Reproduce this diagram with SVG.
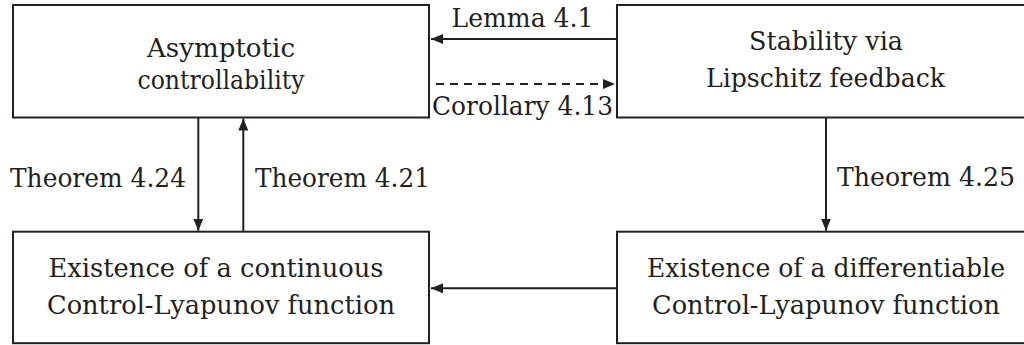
<svg xmlns="http://www.w3.org/2000/svg" width="1024" height="345" viewBox="0 0 1024 345">
  <defs>
    <style>
      .box { fill: #ffffff; stroke: #231f20; stroke-width: 2; }
      text { font-family: 'DejaVu Serif', 'Liberation Serif', serif; font-size: 26px; fill: #231f20; }
      .mid { text-anchor: middle; }
      .edge { stroke: #231f20; stroke-width: 2; fill: none; }
      .dash { stroke-dasharray: 8 6; }
    </style>
    <marker id="arr" viewBox="0 0 12 10" refX="12" refY="5" markerWidth="12" markerHeight="10" markerUnits="userSpaceOnUse" orient="auto">
      <path d="M0,0 L12,5 L0,10 Z" fill="#231f20"/>
    </marker>
  </defs>
  <rect width="1024" height="345" fill="#ffffff"/>

  <g id="node-asymptotic">
    <rect class="box" x="13" y="5" width="416" height="112.5"/>
    <text class="mid" x="221" y="57" textLength="148" lengthAdjust="spacingAndGlyphs">Asymptotic</text>
    <text class="mid" x="221" y="89" textLength="167" lengthAdjust="spacingAndGlyphs">controllability</text>
  </g>

  <g id="node-stability">
    <rect class="box" x="617" y="5" width="420" height="112.5"/>
    <text class="mid" x="826" y="50" textLength="154" lengthAdjust="spacingAndGlyphs">Stability via</text>
    <text class="mid" x="825.5" y="87" textLength="239" lengthAdjust="spacingAndGlyphs">Lipschitz feedback</text>
  </g>

  <g id="node-continuous">
    <rect class="box" x="13" y="231.7" width="416" height="111.5"/>
    <text class="mid" x="216" y="277" textLength="335" lengthAdjust="spacingAndGlyphs">Existence of a continuous</text>
    <text class="mid" x="221" y="314" textLength="348" lengthAdjust="spacingAndGlyphs">Control-Lyapunov function</text>
  </g>

  <g id="node-differentiable">
    <rect class="box" x="617" y="231.7" width="420" height="111.5"/>
    <text class="mid" x="826" y="277" textLength="358" lengthAdjust="spacingAndGlyphs">Existence of a differentiable</text>
    <text class="mid" x="826" y="314" textLength="348" lengthAdjust="spacingAndGlyphs">Control-Lyapunov function</text>
  </g>

  <g id="connectors">
    <line class="edge" x1="617" y1="39" x2="431" y2="39" marker-end="url(#arr)"/>
    <line class="edge dash" x1="436" y1="84" x2="615" y2="84" marker-end="url(#arr)"/>
    <line class="edge" x1="198.3" y1="117.5" x2="198.3" y2="230.7" marker-end="url(#arr)"/>
    <line class="edge" x1="243.3" y1="231.7" x2="243.3" y2="118.5" marker-end="url(#arr)"/>
    <line class="edge" x1="826" y1="117.5" x2="826" y2="230.7" marker-end="url(#arr)"/>
    <line class="edge" x1="617" y1="288.3" x2="431" y2="288.3" marker-end="url(#arr)"/>
    <text x="451.5" y="27" textLength="142" lengthAdjust="spacingAndGlyphs">Lemma 4.1</text>
    <text x="432" y="115" textLength="181" lengthAdjust="spacingAndGlyphs">Corollary 4.13</text>
    <text x="10" y="187" textLength="176" lengthAdjust="spacingAndGlyphs">Theorem 4.24</text>
    <text x="255" y="187" textLength="175" lengthAdjust="spacingAndGlyphs">Theorem 4.21</text>
    <text x="837" y="186" textLength="178" lengthAdjust="spacingAndGlyphs">Theorem 4.25</text>
  </g>
</svg>
